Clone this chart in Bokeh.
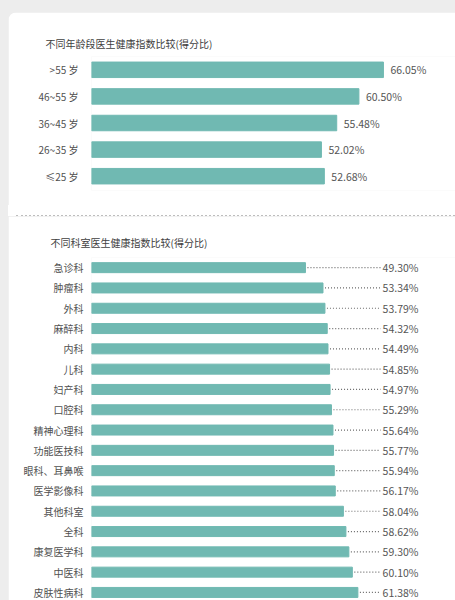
from bokeh.plotting import figure
from bokeh.models import ColumnDataSource, Range1d, FixedTicker, Spacer, Div
from bokeh.layouts import column, row
from bokeh.embed import file_html
from bokeh.resources import INLINE
from bokeh.core.properties import value

# ---------------- data ----------------
age_groups = [">55 岁", "46~55 岁", "36~45 岁", "26~35 岁", "≤25 岁"]
age_scores = [66.05, 60.50, 55.48, 52.02, 52.68]

departments = ["急诊科", "肿瘤科", "外科", "麻醉科", "内科", "儿科", "妇产科", "口腔科",
               "精神心理科", "功能医技科", "眼科、耳鼻喉", "医学影像科", "其他科室", "全科",
               "康复医学科", "中医科", "皮肤性病科"]
dept_scores = [49.30, 53.34, 53.79, 54.32, 54.49, 54.85, 54.97, 55.29,
               55.64, 55.77, 55.94, 56.17, 58.04, 58.62, 59.30, 60.10, 61.38]

title1 = "不同年龄段医生健康指数比较(得分比)"
title2 = "不同科室医生健康指数比较(得分比)"

# ---------------- style ----------------
FONT = "Noto Sans CJK SC"
BAR = "#70b9b2"
W = 447             # card width (page x 8 .. 455)
LEFT = 83           # frame left inside the figure
FRAME_W = W - LEFT


def base_fig(height, top, bottom, x_end, y_start, y_end):
    p = figure(width=W, height=height, output_backend="svg", toolbar_location=None,
               x_range=Range1d(0, x_end), y_range=Range1d(y_start, y_end),
               min_border_left=LEFT, min_border_right=0,
               min_border_top=top, min_border_bottom=bottom)
    p.background_fill_color = "white"
    p.border_fill_color = "white"
    p.outline_line_color = None
    p.grid.visible = False
    p.xaxis.visible = False
    p.yaxis.axis_line_color = None
    p.yaxis.major_tick_line_color = None
    p.yaxis.minor_tick_line_color = None
    p.yaxis.major_tick_out = 0
    p.yaxis.major_tick_in = 0
    p.yaxis.major_label_text_font = FONT
    p.yaxis.major_label_text_font_size = "10px"
    p.yaxis.major_label_text_color = "#505050"
    p.title.text_font = FONT
    p.title.text_font_size = "10px"
    p.title.text_font_style = "normal"
    p.title.text_color = "#404040"
    p.title.align = "left"
    return p


# ---------------- chart 1 ----------------
S1 = 4.42          # px per unit
ROW1 = 26.6
H1, TOP1, BOT1 = 193, 44, 15
FH1 = H1 - TOP1 - BOT1
n1 = len(age_groups)
p1 = base_fig(H1, TOP1, BOT1, FRAME_W / S1, -0.5 + FH1 / ROW1, -0.5)
p1.styles = {"border-top-left-radius": "9px", "overflow": "hidden"}
p1.title.text = title1
p1.title.offset = -46
p1.title.standoff = 12

src1 = ColumnDataSource(dict(y=list(range(n1)), v=age_scores,
                             lab=[f"{s:.2f}%" for s in age_scores]))
p1.hbar(y="y", left=0, right="v", height=15.5 / ROW1, color=BAR, source=src1)
p1.text(x="v", y="y", text="lab", source=src1, x_offset=7, text_align="left",
        text_baseline="middle", text_font=value(FONT), text_font_size="10.5px",
        text_color="#555555")
p1.yaxis.ticker = FixedTicker(ticks=list(range(n1)))
p1.yaxis.major_label_overrides = {i: g for i, g in enumerate(age_groups)}
p1.yaxis.major_label_standoff = 13

# ---------------- separator ----------------
sep = Div(width=W, height=11, margin=0,
          styles={"background-color": "white", "overflow": "hidden"},
          text='<div style="margin-left:8px;margin-top:4px;width:439px;'
               'border-top:2px dotted #bdbdbd;height:0"></div>')

# ---------------- chart 2 ----------------
S2 = 4.34
ROW2 = 20.3
H2, TOP2, BOT2 = 384, 41, 0
FH2 = H2 - TOP2 - BOT2
n2 = len(departments)
p2 = base_fig(H2, TOP2, BOT2, FRAME_W / S2, -0.5 + FH2 / ROW2, -0.5)
p2.title.text = title2
p2.title.offset = -41
p2.title.standoff = 15

LABEL_X = (418 - 91) / S2
LEADER_END = (380 - 91) / S2
src2 = ColumnDataSource(dict(y=list(range(n2)), v=dept_scores,
                             x0=[s + 2 / S2 for s in dept_scores],
                             x1=[LEADER_END] * n2,
                             lx=[LABEL_X] * n2,
                             lab=[f"{s:.2f}%" for s in dept_scores]))
p2.hbar(y="y", left=0, right="v", height=10 / ROW2, color=BAR, source=src2)
p2.segment(x0="x0", y0="y", x1="x1", y1="y", source=src2, line_color="#6a6a6a",
           line_width=1.2, line_dash="1 2")
p2.text(x="lx", y="y", text="lab", source=src2, text_align="right",
        text_baseline="middle", text_font=value(FONT), text_font_size="10.5px",
        text_color="#555555")
p2.yaxis.ticker = FixedTicker(ticks=list(range(n2)))
p2.yaxis.major_label_overrides = {i: d for i, d in enumerate(departments)}
p2.yaxis.major_label_standoff = 8

card = column(Spacer(width=W, height=12), p1, sep, p2, spacing=0)
layout = row(Spacer(width=8, height=600), card, spacing=0)

html = file_html(layout, INLINE, title="医生健康指数比较")
html = html.replace("</head>", "<style>body{background:#ededed}</style></head>", 1)
open("out.html", "w").write(html)
